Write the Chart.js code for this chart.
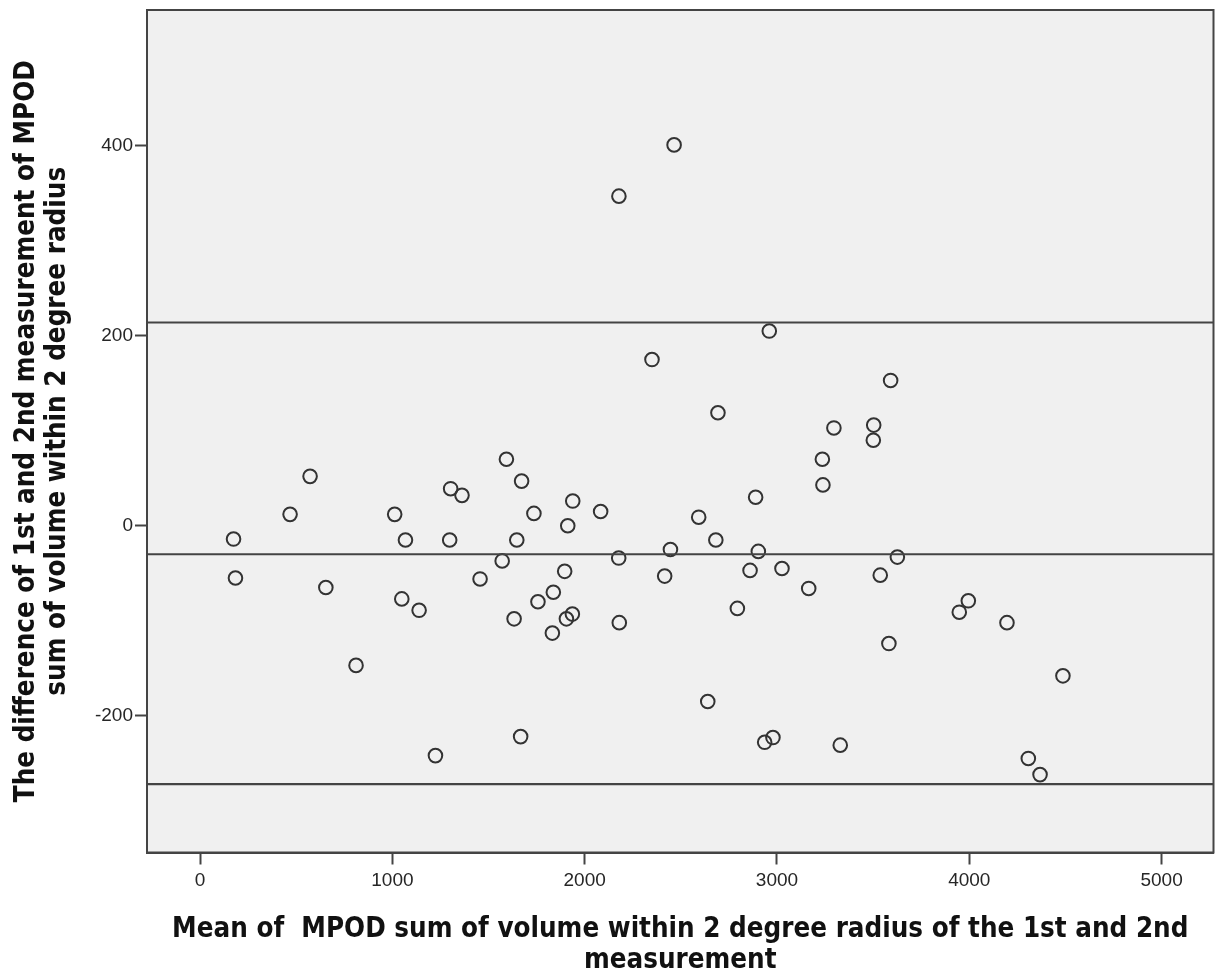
<!DOCTYPE html>
<html>
<head>
<meta charset="utf-8">
<script src="https://cdn.jsdelivr.net/npm/chart.js@4.4.1/dist/chart.umd.min.js"></script>
<style>
  html, body { margin: 0; padding: 0; background: #ffffff; overflow: hidden; }
  #wrap { width: 1217px; height: 973px; position: relative; overflow: hidden; }
  #c { display: block; }
</style>
</head>
<body>
<div id="wrap"><canvas id="c" width="1217" height="973"></canvas></div>
<script>
// Mean of the two measurements (x)
const meanValues = [174, 184, 468, 572, 654, 811, 1012, 1049, 1068, 1139, 1224, 1298, 1303, 1362, 1456, 1571, 1593, 1633, 1647, 1667, 1672, 1736, 1757, 1832, 1837, 1896, 1905, 1912, 1936, 1938, 2083, 2177, 2178, 2180, 2350, 2416, 2446, 2465, 2593, 2640, 2682, 2693, 2794, 2860, 2889, 2903, 2936, 2960, 2979, 3026, 3165, 3236, 3239, 3296, 3329, 3501, 3503, 3537, 3582, 3591, 3626, 3948, 3995, 4196, 4307, 4368, 4487];
// Difference between the two measurements (y)
const diffValues = [-14, -55, 12, 52, -65, -147, 12, -77, -15, -89, -242, -15, 39, 32, -56, -37, 70, -98, -15, -222, 47, 13, -80, -113, -70, -48, -98, 0, -93, 26, 15, -34, 347, -102, 175, -53, -25, 401, 9, -185, -15, 119, -87, -47, 30, -27, -228, 205, -223, -45, -66, 70, 43, 103, -231, 90, 106, -52, -124, 153, -33, -91, -79, -102, -245, -262, -158];
// Reference lines: upper limit of agreement, mean difference, lower limit of agreement
const refLineValues = [214, -30, -272];
const refLineNames = ['Upper limit', 'Mean difference', 'Lower limit'];
// Axis ranges and tick labels
const xRange = [-276, 5270];
const yRange = [-344, 543];
const xTickValues = [0, 1000, 2000, 3000, 4000, 5000];
const yTickValues = [-200, 0, 200, 400];
const xTitle = ['Mean of  MPOD sum of volume within 2 degree radius of the 1st and 2nd', 'measurement'];
const yTitle = ['The difference of 1st and 2nd measurement of MPOD', 'sum of volume within 2 degree radius'];

const points = meanValues.map((m, i) => ({ x: m, y: diffValues[i] }));
const lineDatasets = refLineValues.map((v, i) => ({
  label: refLineNames[i],
  data: [{ x: xRange[0], y: v }, { x: xRange[1], y: v }],
  showLine: true,
  pointRadius: 0,
  borderColor: '#444444',
  borderWidth: 2.2,
  fill: false
}));

const frame = {
  id: 'frame',
  beforeDraw(chart) {
    const { ctx, chartArea: a } = chart;
    ctx.save();
    ctx.fillStyle = '#f0f0f0';
    ctx.fillRect(a.left, a.top, a.right - a.left, a.bottom - a.top);
    ctx.restore();
  },
  afterDraw(chart) {
    const { ctx, chartArea: a } = chart;
    ctx.save();
    ctx.strokeStyle = '#444444';
    ctx.lineWidth = 2;
    ctx.strokeRect(a.left, a.top, a.right - a.left, a.bottom - a.top);
    ctx.restore();
  }
};

const titleFont = { family: '"DejaVu Sans Condensed", "DejaVu Sans", sans-serif', size: 27.5, weight: 'bold', lineHeight: 1.13 };
const tickFont = { family: '"Liberation Sans", Arial, sans-serif', size: 19 };

new Chart(document.getElementById('c'), {
  type: 'scatter',
  data: {
    datasets: [
      ...lineDatasets,
      {
        label: 'Difference',
        data: points,
        pointStyle: 'circle',
        pointRadius: 6.8,
        pointBorderWidth: 2,
        borderColor: '#333333',
        backgroundColor: 'rgba(0,0,0,0)',
        showLine: false
      }
    ]
  },
  plugins: [frame],
  options: {
    responsive: false,
    animation: false,
    devicePixelRatio: 1,
    events: [],
    layout: { autoPadding: false, padding: { top: 10, right: 3.5, left: 0, bottom: 0 } },
    plugins: { legend: { display: false }, tooltip: { enabled: false } },
    scales: {
      x: {
        type: 'linear',
        min: xRange[0],
        max: xRange[1],
        afterBuildTicks(scale) { scale.ticks = xTickValues.map(v => ({ value: v })); },
        afterFit(scale) { scale.height = 120.5; scale.paddingLeft = 0; scale.paddingRight = 0; },
        ticks: { font: tickFont, color: '#262626', padding: 5, maxRotation: 0, autoSkip: false, callback: v => String(v) },
        grid: { drawOnChartArea: false, drawTicks: true, tickLength: 12, tickColor: '#444444', tickWidth: 2 },
        border: { display: true, color: '#444444', width: 2 },
        title: { display: true, text: xTitle, font: titleFont, color: '#111111', padding: { top: 0, bottom: -3 } }
      },
      y: {
        type: 'linear',
        min: yRange[0],
        max: yRange[1],
        afterBuildTicks(scale) { scale.ticks = yTickValues.map(v => ({ value: v })); },
        afterFit(scale) { scale.width = 147; scale.paddingTop = 0; scale.paddingBottom = 0; },
        ticks: { font: tickFont, color: '#262626', padding: 2, autoSkip: false, callback: v => String(v) },
        grid: { drawOnChartArea: false, drawTicks: true, tickLength: 12, tickColor: '#444444', tickWidth: 2 },
        border: { display: true, color: '#444444', width: 2 },
        title: { display: true, text: yTitle, font: titleFont, color: '#111111', padding: { top: 11, bottom: 0 } }
      }
    }
  }
});
</script>
</body>
</html>
